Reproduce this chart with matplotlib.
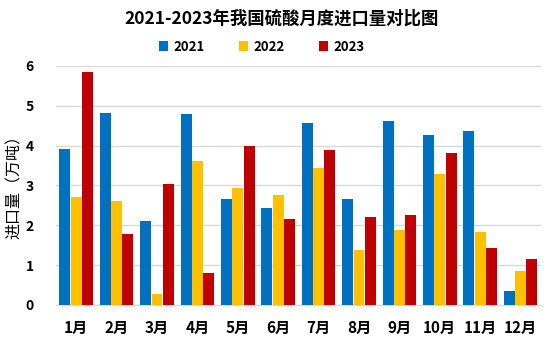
import numpy as np
import matplotlib
matplotlib.use('Agg')
import matplotlib.pyplot as plt

plt.rcParams['font.family'] = ['Noto Sans CJK SC', 'DejaVu Sans']

# monthly import volume (10k tonnes)
months = ['1月', '2月', '3月', '4月', '5月', '6月', '7月', '8月', '9月', '10月', '11月', '12月']
v2021 = [3.91, 4.81, 2.10, 4.79, 2.67, 2.42, 4.56, 2.65, 4.61, 4.26, 4.36, 0.36]
v2022 = [2.70, 2.60, 0.28, 3.60, 2.93, 2.75, 3.43, 1.37, 1.89, 3.28, 1.82, 0.86]
v2023 = [5.84, 1.77, 3.03, 0.79, 3.98, 2.15, 3.88, 2.20, 2.25, 3.81, 1.42, 1.14]

years = ['2021', '2022', '2023']
colors = ['#0070C0', '#FFC000', '#C00000']

fig = plt.figure(figsize=(5.49, 3.38), dpi=100)
ax = fig.add_axes([0.102, 0.098, 0.883, 0.707])

x = np.arange(len(months))
w = 0.27
step = 0.28
for i, (vals, yr, c) in enumerate(zip([v2021, v2022, v2023], years, colors)):
    ax.bar(x + (i - 1) * step, vals, width=w, color=c, label=yr, zorder=3)

ax.set_xlim(-0.5, 11.5)
ax.set_ylim(0, 6)
ax.set_yticks(range(0, 7))
ax.grid(axis='y', color='#D9D9D9', linewidth=1, zorder=0)
for s in ['top', 'right', 'left']:
    ax.spines[s].set_visible(False)
ax.spines['bottom'].set_color('#D9D9D9')
ax.tick_params(axis='both', length=0)
ax.set_xticks(x)
ax.set_xticklabels(months, fontsize=11, fontweight='bold')
ax.tick_params(axis='x', pad=11)
ax.tick_params(axis='y', pad=16)
for t in ax.get_yticklabels():
    t.set_fontsize(10)
    t.set_fontweight('bold')

# y label placed by hand so it stays inside the figure
fig.text(14 / 549, 1 - 183 / 338, '进口量（万吨）', rotation=90, ha='center', va='center',
         fontsize=11.5)

fig.text(0.512, 0.945, '2021-2023年我国硫酸月度进口量对比图', ha='center', va='center',
         fontsize=12.5, fontweight='bold')
fig.legend(loc='center', bbox_to_anchor=(0.477, 0.862), ncol=3, frameon=False,
           handlelength=0.7, handleheight=0.7, handletextpad=0.4, columnspacing=2.6,
           prop={'size': 9.5, 'weight': 'bold'})

fig.savefig('out.png', dpi=100)
